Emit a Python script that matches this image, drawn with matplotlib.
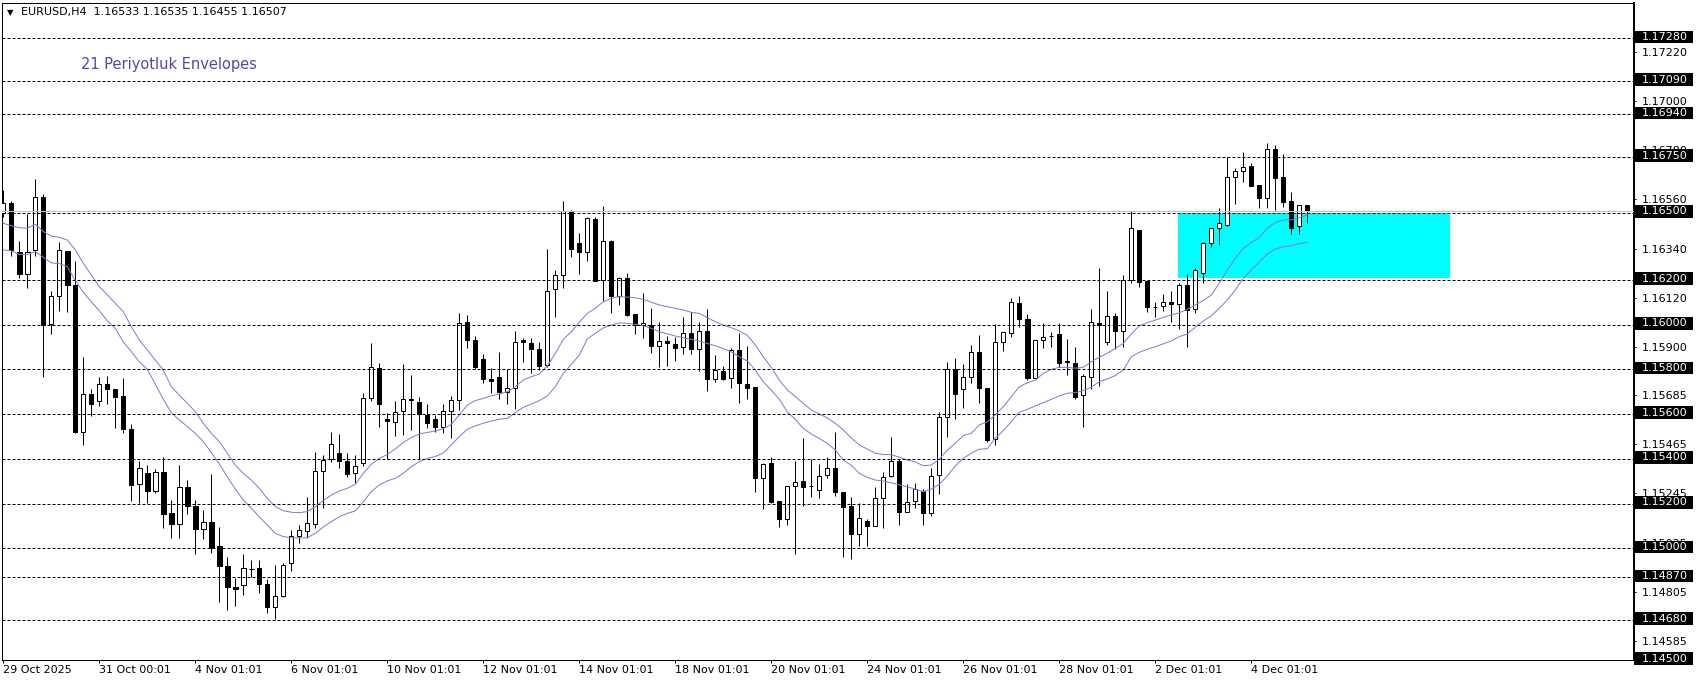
import matplotlib
matplotlib.use("Agg")
import matplotlib.pyplot as plt
import numpy as np
from matplotlib.patches import Rectangle
from matplotlib.transforms import blended_transform_factory

plt.rcParams["font.family"] = ["DejaVu Sans"]
plt.rcParams["lines.scale_dashes"] = False

symbol = "EURUSD,H4"
indicator_label = "21 Periyotluk Envelopes"

# H4 candles, oldest first
opens = [1.16500, 1.16545, 1.16326, 1.16225, 1.16334, 1.16569, 1.16002, 1.16130, 1.16330, 1.16177,
         1.15519, 1.15688, 1.15660, 1.15733, 1.15711, 1.15681, 1.15532, 1.15286, 1.15336, 1.15258,
         1.15343, 1.15157, 1.15108, 1.15276, 1.15187, 1.15087, 1.15117, 1.15008, 1.14919, 1.14826,
         1.14836, 1.14906, 1.14911, 1.14839, 1.14736, 1.14788, 1.14932, 1.15054, 1.15077, 1.15108,
         1.15347, 1.15398, 1.15425, 1.15389, 1.15335, 1.15380, 1.15672, 1.15805, 1.15576, 1.15566,
         1.15613, 1.15669, 1.15655, 1.15596, 1.15578, 1.15541, 1.15613, 1.15663, 1.16013, 1.15929,
         1.15845, 1.15756, 1.15765, 1.15698, 1.15716, 1.15929, 1.15917, 1.15890, 1.15820, 1.16158,
         1.16221, 1.16509, 1.16364, 1.16323, 1.16471, 1.16200, 1.16374, 1.16130, 1.16207, 1.16047,
         1.15999, 1.15999, 1.15905, 1.15927, 1.15914, 1.15901, 1.15961, 1.15890, 1.15972, 1.15756,
         1.15793, 1.15760, 1.15886, 1.15733, 1.15723, 1.15316, 1.15380, 1.15212, 1.15130, 1.15280,
         1.15302, 1.15280, 1.15261, 1.15328, 1.15358, 1.15251, 1.15187, 1.15063, 1.15120, 1.15100,
         1.15224, 1.15324, 1.15391, 1.15164, 1.15213, 1.15257, 1.15156, 1.15328, 1.15585, 1.15800,
         1.15711, 1.15765, 1.15876, 1.15716, 1.15488, 1.15921, 1.15961, 1.16095, 1.16024, 1.15763,
         1.15930, 1.15950, 1.15957, 1.15838, 1.15827, 1.15684, 1.15767, 1.16009, 1.15924, 1.16039,
         1.15973, 1.16200, 1.16423, 1.16195, 1.16080, 1.16085, 1.16100, 1.16091, 1.16176, 1.16068,
         1.16231, 1.16365, 1.16431, 1.16445, 1.16659, 1.16687, 1.16709, 1.16624, 1.16567, 1.16784,
         1.16659, 1.16553, 1.16440, 1.16533]
highs = [1.16602, 1.16554, 1.16374, 1.16495, 1.16651, 1.16584, 1.16150, 1.16368, 1.16330, 1.16283,
         1.15855, 1.15713, 1.15766, 1.15771, 1.15711, 1.15762, 1.15554, 1.15388, 1.15373, 1.15354,
         1.15407, 1.15216, 1.15373, 1.15306, 1.15216, 1.15172, 1.15333, 1.15097, 1.14961, 1.14867,
         1.14974, 1.14947, 1.14948, 1.14862, 1.14926, 1.14936, 1.15082, 1.15104, 1.15231, 1.15432,
         1.15418, 1.15519, 1.15510, 1.15425, 1.15416, 1.15694, 1.15916, 1.15830, 1.15604, 1.15659,
         1.15825, 1.15775, 1.15678, 1.15644, 1.15596, 1.15644, 1.15682, 1.16051, 1.16043, 1.15950,
         1.15869, 1.15804, 1.15876, 1.15800, 1.15970, 1.15939, 1.15939, 1.15921, 1.16340, 1.16244,
         1.16553, 1.16512, 1.16408, 1.16480, 1.16480, 1.16530, 1.16378, 1.16212, 1.16230, 1.16047,
         1.16141, 1.16073, 1.16011, 1.15947, 1.15944, 1.16035, 1.16058, 1.16011, 1.16069, 1.15864,
         1.15815, 1.15894, 1.15963, 1.15905, 1.15723, 1.15380, 1.15410, 1.15212, 1.15280, 1.15391,
         1.15491, 1.15400, 1.15378, 1.15410, 1.15521, 1.15251, 1.15229, 1.15202, 1.15131, 1.15276,
         1.15342, 1.15498, 1.15400, 1.15288, 1.15290, 1.15267, 1.15358, 1.15611, 1.15833, 1.15849,
         1.15825, 1.15909, 1.15954, 1.15716, 1.16001, 1.15966, 1.16119, 1.16129, 1.16047, 1.15930,
         1.16006, 1.15969, 1.16006, 1.15936, 1.15901, 1.15779, 1.16068, 1.16252, 1.16150, 1.16051,
         1.16222, 1.16509, 1.16423, 1.16195, 1.16103, 1.16137, 1.16150, 1.16185, 1.16225, 1.16252,
         1.16371, 1.16434, 1.16520, 1.16751, 1.16699, 1.16770, 1.16721, 1.16624, 1.16813, 1.16803,
         1.16763, 1.16592, 1.16534, 1.16535]
lows = [1.16483, 1.16307, 1.16210, 1.16165, 1.16307, 1.15767, 1.15959, 1.16062, 1.16058, 1.15514,
        1.15461, 1.15590, 1.15638, 1.15644, 1.15539, 1.15517, 1.15212, 1.15204, 1.15204, 1.15246,
        1.15090, 1.15045, 1.15045, 1.15152, 1.14973, 1.15041, 1.14981, 1.14758, 1.14722, 1.14742,
        1.14791, 1.14872, 1.14800, 1.14711, 1.14684, 1.14781, 1.14900, 1.15025, 1.15045, 1.15090,
        1.15181, 1.15384, 1.15358, 1.15318, 1.15291, 1.15368, 1.15657, 1.15544, 1.15398, 1.15502,
        1.15506, 1.15529, 1.15400, 1.15539, 1.15521, 1.15514, 1.15491, 1.15619, 1.15897, 1.15802,
        1.15738, 1.15693, 1.15668, 1.15644, 1.15622, 1.15832, 1.15783, 1.15797, 1.15809, 1.16036,
        1.16163, 1.16300, 1.16225, 1.16286, 1.16197, 1.16106, 1.16054, 1.16088, 1.16039, 1.15958,
        1.15942, 1.15875, 1.15812, 1.15815, 1.15839, 1.15867, 1.15867, 1.15793, 1.15705, 1.15745,
        1.15752, 1.15718, 1.15649, 1.15667, 1.15253, 1.15174, 1.15204, 1.15093, 1.15104, 1.14975,
        1.15191, 1.15228, 1.15226, 1.15316, 1.15235, 1.14963, 1.14952, 1.15012, 1.15012, 1.15100,
        1.15090, 1.15320, 1.15104, 1.15164, 1.15179, 1.15104, 1.15142, 1.15242, 1.15499, 1.15576,
        1.15626, 1.15741, 1.15649, 1.15477, 1.15462, 1.15884, 1.15946, 1.15991, 1.15753, 1.15763,
        1.15897, 1.15902, 1.15812, 1.15775, 1.15668, 1.15544, 1.15712, 1.15726, 1.15909, 1.15890,
        1.15901, 1.16185, 1.16170, 1.16058, 1.16033, 1.16061, 1.16013, 1.15979, 1.15901, 1.16051,
        1.16185, 1.16345, 1.16354, 1.16442, 1.16538, 1.16636, 1.16621, 1.16522, 1.16522, 1.16512,
        1.16525, 1.16404, 1.16404, 1.16455]
closes = [1.16545, 1.16334, 1.16225, 1.16326, 1.16569, 1.15998, 1.16130, 1.16332, 1.16175, 1.15519,
          1.15688, 1.15644, 1.15733, 1.15711, 1.15678, 1.15535, 1.15281, 1.15358, 1.15258, 1.15343,
          1.15152, 1.15108, 1.15276, 1.15187, 1.15087, 1.15117, 1.15003, 1.14922, 1.14826, 1.14818,
          1.14911, 1.14906, 1.14841, 1.14736, 1.14788, 1.14926, 1.15057, 1.15082, 1.15112, 1.15347,
          1.15395, 1.15465, 1.15388, 1.15331, 1.15367, 1.15672, 1.15810, 1.15644, 1.15570, 1.15611,
          1.15669, 1.15661, 1.15599, 1.15559, 1.15544, 1.15615, 1.15663, 1.16009, 1.15929, 1.15812,
          1.15756, 1.15750, 1.15698, 1.15716, 1.15924, 1.15920, 1.15890, 1.15817, 1.16152, 1.16223,
          1.16509, 1.16337, 1.16326, 1.16475, 1.16197, 1.16374, 1.16130, 1.16207, 1.16043, 1.15999,
          1.16007, 1.15905, 1.15927, 1.15917, 1.15897, 1.15961, 1.15890, 1.15972, 1.15756, 1.15797,
          1.15758, 1.15886, 1.15738, 1.15718, 1.15316, 1.15376, 1.15209, 1.15133, 1.15280, 1.15296,
          1.15276, 1.15280, 1.15325, 1.15358, 1.15251, 1.15184, 1.15063, 1.15135, 1.15100, 1.15224,
          1.15320, 1.15391, 1.15164, 1.15205, 1.15263, 1.15156, 1.15325, 1.15585, 1.15800, 1.15689,
          1.15765, 1.15876, 1.15718, 1.15485, 1.15921, 1.15966, 1.16099, 1.16024, 1.15760, 1.15930,
          1.15944, 1.15950, 1.15830, 1.15832, 1.15675, 1.15769, 1.16010, 1.15997, 1.16039, 1.15973,
          1.16200, 1.16431, 1.16192, 1.16080, 1.16080, 1.16100, 1.16091, 1.16176, 1.16065, 1.16244,
          1.16365, 1.16431, 1.16453, 1.16659, 1.16687, 1.16703, 1.16621, 1.16567, 1.16784, 1.16657,
          1.16550, 1.16433, 1.16534, 1.16507]

# envelope bands as drawn on the chart
env_upper = [1.16453, 1.16442, 1.16433, 1.16431, 1.16449, 1.16416, 1.16396, 1.16390, 1.16378, 1.16334,
             1.16274, 1.16222, 1.16170, 1.16133, 1.16095, 1.16058, 1.15991, 1.15931, 1.15887, 1.15842,
             1.15797, 1.15722, 1.15685, 1.15648, 1.15611, 1.15559, 1.15514, 1.15477, 1.15425, 1.15372,
             1.15335, 1.15305, 1.15268, 1.15223, 1.15186, 1.15168, 1.15161, 1.15159, 1.15164, 1.15186,
             1.15213, 1.15238, 1.15256, 1.15268, 1.15286, 1.15335, 1.15375, 1.15402, 1.15419, 1.15444,
             1.15473, 1.15495, 1.15511, 1.15518, 1.15524, 1.15535, 1.15554, 1.15596, 1.15640, 1.15660,
             1.15670, 1.15681, 1.15690, 1.15700, 1.15722, 1.15752, 1.15767, 1.15779, 1.15815, 1.15871,
             1.15934, 1.15968, 1.16010, 1.16050, 1.16073, 1.16102, 1.16118, 1.16125, 1.16123, 1.16120,
             1.16113, 1.16100, 1.16088, 1.16080, 1.16073, 1.16065, 1.16055, 1.16050, 1.16031, 1.16013,
             1.15998, 1.15986, 1.15972, 1.15952, 1.15909, 1.15856, 1.15809, 1.15752, 1.15708, 1.15678,
             1.15648, 1.15618, 1.15600, 1.15583, 1.15559, 1.15529, 1.15493, 1.15462, 1.15443, 1.15425,
             1.15419, 1.15419, 1.15407, 1.15395, 1.15386, 1.15369, 1.15372, 1.15398, 1.15439, 1.15469,
             1.15504, 1.15514, 1.15551, 1.15566, 1.15596, 1.15633, 1.15678, 1.15722, 1.15740, 1.15752,
             1.15782, 1.15800, 1.15809, 1.15809, 1.15805, 1.15809, 1.15834, 1.15854, 1.15872, 1.15894,
             1.15916, 1.15958, 1.15995, 1.16008, 1.16020, 1.16032, 1.16043, 1.16053, 1.16068, 1.16088,
             1.16108, 1.16132, 1.16185, 1.16244, 1.16296, 1.16341, 1.16366, 1.16390, 1.16431, 1.16457,
             1.16468, 1.16468, 1.16478, 1.16490]
env_lower = [1.16334, 1.16330, 1.16313, 1.16313, 1.16326, 1.16301, 1.16276, 1.16273, 1.16259, 1.16197,
             1.16145, 1.16102, 1.16062, 1.16017, 1.15983, 1.15923, 1.15879, 1.15834, 1.15800, 1.15734,
             1.15666, 1.15606, 1.15574, 1.15544, 1.15514, 1.15477, 1.15428, 1.15377, 1.15320, 1.15264,
             1.15216, 1.15179, 1.15141, 1.15104, 1.15067, 1.15052, 1.15047, 1.15046, 1.15047, 1.15067,
             1.15095, 1.15119, 1.15141, 1.15156, 1.15167, 1.15208, 1.15253, 1.15283, 1.15301, 1.15313,
             1.15335, 1.15365, 1.15387, 1.15402, 1.15410, 1.15426, 1.15462, 1.15499, 1.15532, 1.15547,
             1.15559, 1.15569, 1.15577, 1.15581, 1.15606, 1.15630, 1.15645, 1.15660, 1.15681, 1.15722,
             1.15782, 1.15822, 1.15864, 1.15936, 1.15961, 1.15985, 1.15998, 1.16008, 1.16005, 1.16001,
             1.15995, 1.15983, 1.15968, 1.15959, 1.15949, 1.15941, 1.15934, 1.15926, 1.15916, 1.15905,
             1.15893, 1.15878, 1.15856, 1.15837, 1.15797, 1.15744, 1.15707, 1.15666, 1.15610, 1.15576,
             1.15536, 1.15511, 1.15491, 1.15469, 1.15439, 1.15394, 1.15371, 1.15335, 1.15317, 1.15305,
             1.15301, 1.15293, 1.15283, 1.15275, 1.15264, 1.15253, 1.15264, 1.15286, 1.15323, 1.15368,
             1.15402, 1.15425, 1.15443, 1.15445, 1.15492, 1.15526, 1.15566, 1.15608, 1.15621, 1.15636,
             1.15651, 1.15666, 1.15681, 1.15693, 1.15696, 1.15705, 1.15720, 1.15745, 1.15757, 1.15772,
             1.15797, 1.15856, 1.15876, 1.15890, 1.15901, 1.15914, 1.15927, 1.15946, 1.15958, 1.15988,
             1.16016, 1.16039, 1.16073, 1.16110, 1.16155, 1.16207, 1.16244, 1.16279, 1.16316, 1.16338,
             1.16348, 1.16353, 1.16362, 1.16368]

h_levels = [1.17280, 1.17090, 1.16940, 1.16750, 1.16500, 1.16200, 1.16000, 1.15800,
            1.15600, 1.15400, 1.15200, 1.15000, 1.14870, 1.14680, 1.14500]
price_ticks = [1.17220, 1.17000, 1.16780, 1.16560, 1.16340, 1.16120, 1.15900, 1.15685,
               1.15465, 1.15245, 1.15025, 1.14805, 1.14585]
time_tick_idx = [0, 12, 24, 36, 48, 60, 72, 84, 96, 108, 120, 132, 144, 156]
time_tick_labels = ["29 Oct 2025", "31 Oct 00:01", "4 Nov 01:01", "6 Nov 01:01", "10 Nov 01:01",
                    "12 Nov 01:01", "14 Nov 01:01", "18 Nov 01:01", "20 Nov 01:01", "24 Nov 01:01",
                    "26 Nov 01:01", "28 Nov 01:01", "2 Dec 01:01", "4 Dec 01:01"]
zone_x = (146.85, 180.85)
zone_y = (1.16207, 1.16500)
bid = 1.16507

PX = 0.72  # one pixel in points at 100 dpi
W, H = 1699, 684
ax_left, ax_right, ax_top, ax_bot = 2.5, 1634.5, 2.7, 660.0
y_lo, y_hi = 1.145004, 1.174392

fig = plt.figure(figsize=(W / 100, H / 100), dpi=100)
ax = fig.add_axes([ax_left / W, (H - ax_bot) / H, (ax_right - ax_left) / W, (ax_bot - ax_top) / H])
ax.set_xlim(-0.1, 203.9)
ax.set_ylim(y_lo, y_hi)
px_price = (y_hi - y_lo) / (ax_bot - ax_top)
ax_w = ax_right - ax_left

o = np.array(opens)
hi = np.array(highs)
lo = np.array(lows)
c = np.array(closes)
x = np.arange(len(c))
bull = c >= o
body_bot = np.minimum(o, c)
body_h = np.abs(c - o)

# zone behind the candles
ax.add_patch(Rectangle((zone_x[0], zone_y[0]), zone_x[1] - zone_x[0], zone_y[1] - zone_y[0],
                       facecolor="#00FFFF", edgecolor="none", zorder=1))

ax.vlines(x, lo, hi, color="black", lw=PX, zorder=3)
ax.bar(x[bull], body_h[bull], bottom=body_bot[bull], width=0.55,
       facecolor="white", edgecolor="black", lw=PX, zorder=4)
ax.bar(x[~bull], body_h[~bull], bottom=body_bot[~bull], width=0.55,
       facecolor="black", edgecolor="black", lw=PX, zorder=4)

ax.plot(x, env_upper, color="#9370DB", lw=PX, zorder=5)
ax.plot(x, env_lower, color="#9370DB", lw=PX, zorder=5)

ax.axhline(bid, color="#C0C0C0", lw=PX, zorder=5.5)
for lv in h_levels:
    ax.axhline(lv, color="black", lw=PX, linestyle=(0, (2.16, 1.44)), zorder=6)

# axes frame
for side in ["left", "top", "bottom"]:
    ax.spines[side].set_linewidth(PX)
ax.spines["right"].set_linewidth(2 * PX)

ax.set_xticks(time_tick_idx)
ax.set_xticklabels(time_tick_labels, ha="left")
ax.tick_params(axis="x", length=3 * PX, width=PX, pad=1.5, labelsize=8)

ax.yaxis.tick_right()
ax.set_yticks(price_ticks)
ax.set_yticklabels([f"{v:.5f}" for v in price_ticks])
ax.tick_params(axis="y", length=2 * PX, width=PX, pad=4, labelsize=8)

trans = blended_transform_factory(ax.transAxes, ax.transData)
for lv in h_levels:
    ax.add_patch(Rectangle((1.0, lv - 5.0 * px_price), 59 / ax_w, 12.7 * px_price,
                           facecolor="black", edgecolor="none", transform=trans,
                           clip_on=False, zorder=8))
    ax.text(1.0 + 7 / ax_w, lv + 1.3 * px_price, f"{lv:.5f}", color="white", fontsize=8,
            va="center", ha="left", transform=trans, clip_on=False, zorder=9)

fig.text(7 / W, 1 - 12.5 / H, "\u25bc", fontsize=6, va="center", ha="left")
fig.text(21 / W, 1 - 12.5 / H,
         f"{symbol}  {opens[-1]:.5f} {highs[-1]:.5f} {lows[-1]:.5f} {closes[-1]:.5f}",
         fontsize=8, va="center", ha="left")
fig.text(81 / W, 1 - 65 / H, indicator_label, fontsize=10.5, color="#4B4BAA",
         va="center", ha="left")

fig.savefig("out.png", dpi=100)
